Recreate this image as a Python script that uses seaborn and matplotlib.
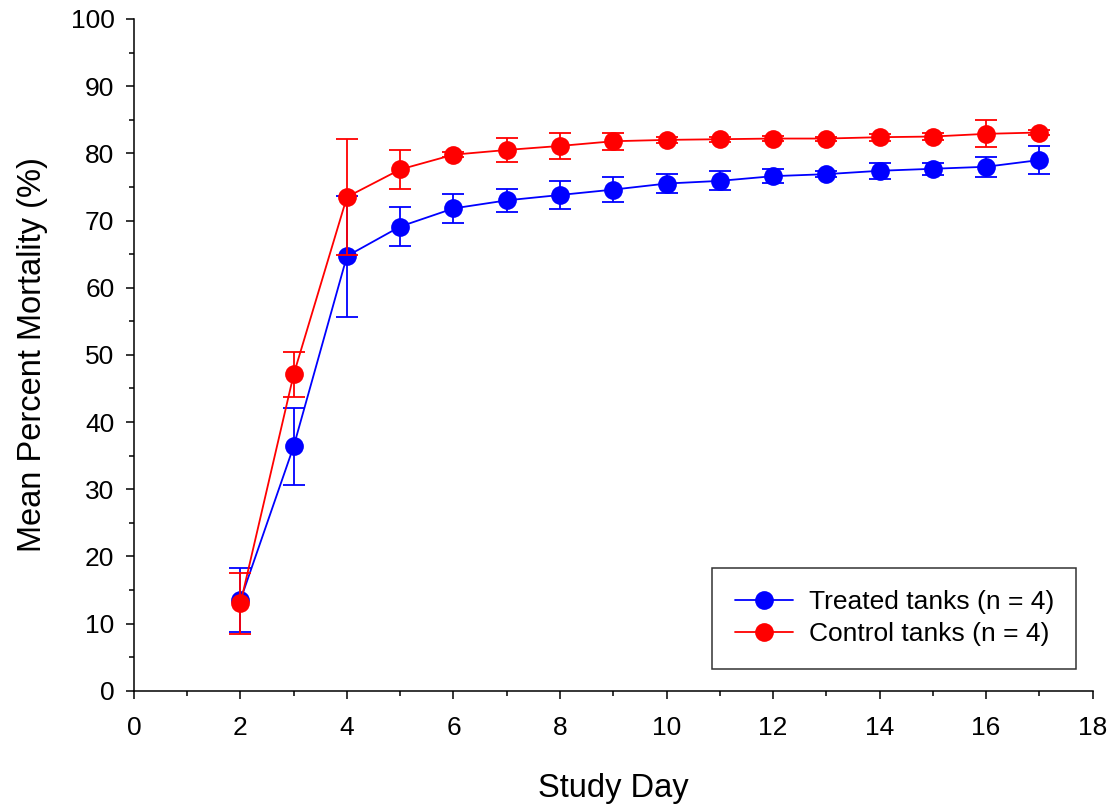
import matplotlib
matplotlib.use("Agg")
import matplotlib.pyplot as plt
from matplotlib.ticker import MultipleLocator
from matplotlib.lines import Line2D
import seaborn as sns
import pandas as pd

days = [2, 3, 4, 5, 6, 7, 8, 9, 10, 11, 12, 13, 14, 15, 16, 17]
treated_mean = [13.5, 36.4, 64.7, 69.1, 71.8, 73.0, 73.8, 74.6, 75.5, 75.9, 76.6, 76.9, 77.4, 77.7, 78.0, 79.0]
treated_err = [4.8, 5.7, 9.0, 2.9, 2.2, 1.7, 2.1, 1.9, 1.4, 1.4, 1.0, 0.4, 1.2, 0.9, 1.5, 2.15]
control_mean = [13.0, 47.1, 73.5, 77.6, 79.8, 80.5, 81.1, 81.8, 82.0, 82.1, 82.2, 82.2, 82.4, 82.5, 82.9, 83.1]
control_err = [4.5, 3.4, 8.7, 2.9, 0.4, 1.75, 1.9, 1.3, 0.5, 0.4, 0.4, 0.3, 0.5, 0.5, 2.0, 0.4]
labels = ["Treated tanks (n = 4)", "Control tanks (n = 4)"]
colors = ["#0000ff", "#ff0000"]

sns.set_style("ticks")
plt.rcParams['font.family'] = ['Liberation Sans', 'DejaVu Sans']
plt.rcParams['text.color'] = 'black'
plt.rcParams['axes.labelcolor'] = 'black'
plt.rcParams['xtick.color'] = 'black'
plt.rcParams['ytick.color'] = 'black'

df = pd.concat([
    pd.DataFrame({"day": days, "mean": treated_mean, "err": treated_err, "group": labels[0]}),
    pd.DataFrame({"day": days, "mean": control_mean, "err": control_err, "group": labels[1]}),
])

fig = plt.figure(figsize=(11.16, 8.07), dpi=100)
ax = fig.add_axes([0.120, 0.144, 0.859, 0.8325])

for i, (lab, col) in enumerate(zip(labels, colors)):
    sub = df[df["group"] == lab]
    ax.errorbar(sub["day"], sub["mean"], yerr=sub["err"], fmt='none', ecolor=col,
                elinewidth=1.3, capsize=8, capthick=1.3, zorder=2 + 2 * i)
    sns.lineplot(data=sub, x="day", y="mean", color=col, marker='o', markersize=13.5,
                 markeredgewidth=0, linewidth=1.3, ax=ax, zorder=3 + 2 * i, legend=False)

ax.set_xlim(0, 18)
ax.set_ylim(0, 100)
ax.xaxis.set_major_locator(MultipleLocator(2))
ax.xaxis.set_minor_locator(MultipleLocator(1))
ax.yaxis.set_major_locator(MultipleLocator(10))
ax.yaxis.set_minor_locator(MultipleLocator(5))
ax.tick_params(axis='both', which='major', direction='out', length=6, width=1.1,
               labelsize=19, colors='black', pad=8)
ax.tick_params(axis='x', which='major', pad=12)
ax.tick_params(axis='both', which='minor', direction='out', length=3.5, width=1.1)
for s in ['left', 'bottom']:
    ax.spines[s].set_linewidth(1.1)
    ax.spines[s].set_color('black')
sns.despine(ax=ax)

ax.set_xlabel("Study Day", fontsize=23.5, labelpad=24)
ax.set_ylabel("Mean Percent Mortality (%)", fontsize=23.5, labelpad=16)

handles = [Line2D([0], [0], color=c, marker='o', markersize=13.5, markeredgewidth=0, linewidth=1.3)
           for c in colors]
leg = ax.legend(handles, labels, loc='lower right', bbox_to_anchor=(0.983, 0.033),
                borderaxespad=0, fontsize=19, frameon=True, fancybox=False,
                handlelength=2.2, handletextpad=0.6, borderpad=0.85, labelspacing=0.3)
leg.get_frame().set_edgecolor('black')
leg.get_frame().set_linewidth(1.1)

fig.savefig("out.png", dpi=100)
